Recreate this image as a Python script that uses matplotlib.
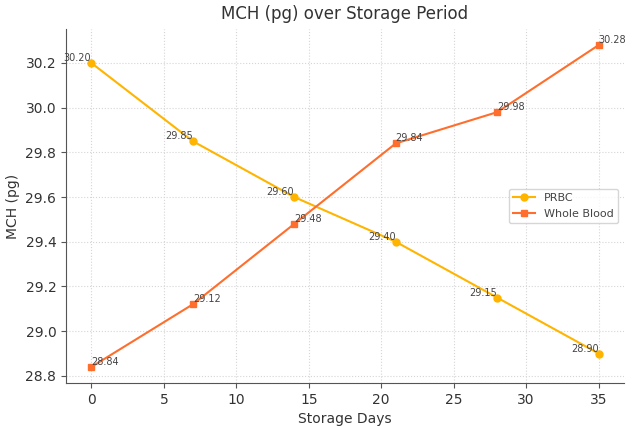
import matplotlib
matplotlib.use("Agg")
import matplotlib.pyplot as plt

OUTPUT_FILE = "out.png"

days = [0, 7, 14, 21, 28, 35]
prbc = [30.20, 29.85, 29.60, 29.40, 29.15, 28.90]
whole_blood = [28.84, 29.12, 29.48, 29.84, 29.98, 30.28]

fig = plt.figure(figsize=(6.32, 4.26), dpi=100)
ax = fig.add_axes([66 / 632, 43 / 426, 558 / 632, 354 / 426])

ax.plot(days, prbc, marker="o", color="#FFB400", label="PRBC", markersize=5, linewidth=1.5)
ax.plot(days, whole_blood, marker="s", color="#FF6E2C", label="Whole Blood", markersize=5, linewidth=1.5)

# value labels
for d, v in zip(days, prbc):
    ax.text(d, v, f"{v:.2f}", fontsize=7, color="#444444", ha="right", va="bottom")
for d, v in zip(days, whole_blood):
    ax.text(d, v, f"{v:.2f}", fontsize=7, color="#444444", ha="left", va="bottom")

ax.set_xlabel("Storage Days", fontsize=10, color="#333333")
ax.set_ylabel("MCH (pg)", fontsize=10, color="#333333")
ax.set_title("MCH (pg) over Storage Period", fontsize=12, color="#333333", pad=7)

ax.grid(True, linestyle=":", color="#d5d5d5", linewidth=0.8)
ax.spines["top"].set_visible(False)
ax.spines["right"].set_visible(False)
for s in ("left", "bottom"):
    ax.spines[s].set_color("#555555")
ax.tick_params(colors="#555555", labelcolor="#333333", labelsize=10)

ax.legend(loc="center right", fontsize=8, labelcolor="#444444")

plt.savefig(OUTPUT_FILE, dpi=100)
